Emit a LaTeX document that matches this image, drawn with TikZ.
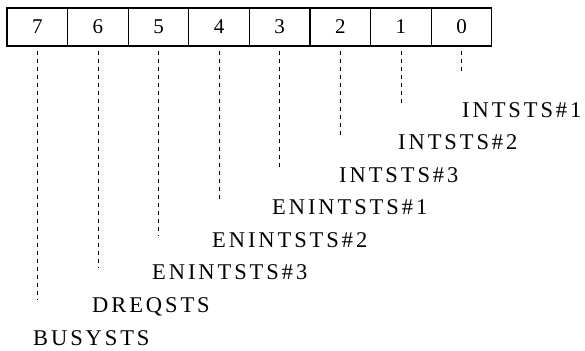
\documentclass[tikz,border=0pt]{standalone}
\usepackage{fontspec}
\usepackage{tikz}
\usetikzlibrary{positioning}
\setmainfont{Liberation Serif}
\newfontfamily\lblfont{Liberation Serif}[LetterSpace=13]

\begin{document}
\begin{tikzpicture}[x=1pt,y=-1pt,
cell/.style={draw,line width=1.2pt,minimum width=60.6pt,minimum height=38pt,inner sep=0pt,font=\fontsize{21}{21}\selectfont},
lbl/.style={anchor=base west,inner sep=0pt,font=\fontsize{22.5}{22.5}\lblfont},
tick/.style={line width=0.7pt,dash pattern=on 4pt off 4pt}]
\useasboundingbox (0,0) rectangle (585,350);
% register bits 7..0
\foreach \b [count=\i from 0] in {7,6,5,4,3,2,1,0}{
  \node[cell] (b\b) at ({37.3+60.6*\i},27) {\b};
  \coordinate (e\b) at ({37.3+60.6*\i},{72+32.57*\b});
}
\node[lbl] (l0) at (462,117) {INTSTS\#1};
\node[lbl] (l1) at (398,149.6) {INTSTS\#2};
\node[lbl] (l2) at (339,182.1) {INTSTS\#3};
\node[lbl] (l3) at (272,214.7) {ENINTSTS\#1};
\node[lbl] (l4) at (212,247.3) {ENINTSTS\#2};
\node[lbl] (l5) at (152,279.9) {ENINTSTS\#3};
\node[lbl] (l6) at (92,312.4) {DREQSTS};
\node[lbl] (l7) at (33,345) {BUSYSTS};
\foreach \b in {0,...,7}{\draw[tick] ([yshift=-4pt]b\b.south)--(e\b);}
\end{tikzpicture}
\end{document}
